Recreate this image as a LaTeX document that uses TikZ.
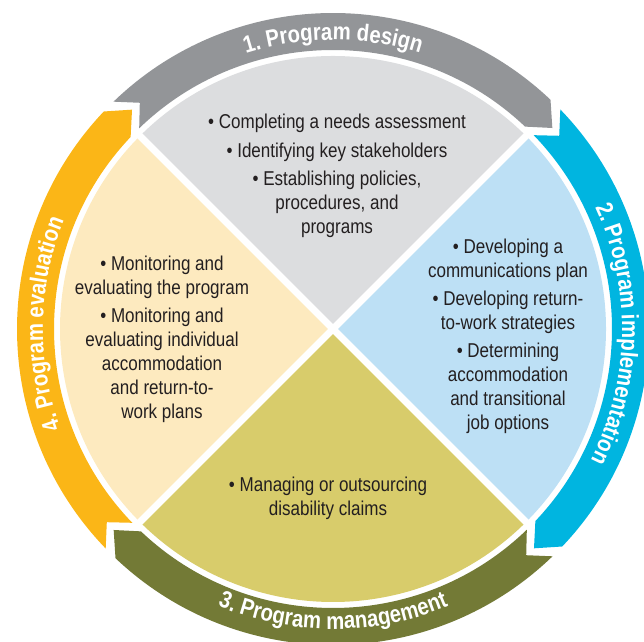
\documentclass[tikz,border=0pt]{standalone}
\usepackage{fontspec}
\setmainfont{Liberation Sans}[FakeStretch=0.85]
\usetikzlibrary{decorations.text}

\definecolor{designband}{HTML}{939598}
\definecolor{designfill}{HTML}{DCDDDF}
\definecolor{implband}{HTML}{00B5E0}
\definecolor{implfill}{HTML}{BDE0F5}
\definecolor{mgmtband}{HTML}{737A36}
\definecolor{mgmtfill}{HTML}{D8CC6B}
\definecolor{evalband}{HTML}{FBB617}
\definecolor{evalfill}{HTML}{FDEABF}
\definecolor{textblack}{HTML}{231F20}

\newcommand{\bandfont}{\fontsize{13.6}{13.6}\selectfont\bfseries}

\begin{document}
\begin{tikzpicture}[x=0.02cm, y=0.02cm,
    quadtext/.style={align=center, inner sep=0pt, text=textblack,
      font=\fontsize{11.4}{13.6}\selectfont},
    bandtext/.style={decorate,
      decoration={text along path, text align=center, text color=white}}]

    \useasboundingbox (0,0) rectangle (644,641);
    \clip (0,0) rectangle (644,641);

    \begin{scope}[shift={(333,312)}]
        % disc quarters
        \fill[designfill] (0,0) -- (45:273) arc[start angle=45, end angle=135, radius=273] -- cycle;
        \fill[evalfill] (0,0) -- (135:273) arc[start angle=135, end angle=225, radius=273] -- cycle;
        \fill[mgmtfill] (0,0) -- (225:273) arc[start angle=225, end angle=315, radius=273] -- cycle;
        \fill[implfill] (0,0) -- (-45:273) arc[start angle=-45, end angle=45, radius=273] -- cycle;
        \foreach \a in {45,135}
            \draw[white, line width=4pt] ({\a}:276) -- ({\a+180}:276);

        % arrow bands, clockwise
        \foreach \b/\col in {135/designband, 45/implband, -45/mgmtband, -135/evalband}
            \fill[\col] ({\b-1}:316) arc[start angle=\b-1, end angle=\b-88.5, radius=316]
                -- ({\b-92.5}:297.5) -- ({\b-88.5}:279)
                arc[start angle=\b-88.5, end angle=\b-1, radius=279]
                -- ({\b-4.5}:297.5) -- cycle;

        \path[bandtext, decoration={text={|\bandfont|1. Program design}}]
            (150:289) arc[start angle=150, end angle=30, radius=289];
        \path[bandtext, decoration={text={|\bandfont|2. Program implementation}}]
            (59:289) arc[start angle=59, end angle=-61, radius=289];
        \path[bandtext, decoration={text={|\bandfont|3. Program management}}]
            (-150:300) arc[start angle=-150, end angle=-30, radius=300];
        \path[bandtext, decoration={text={|\bandfont|4. Program evaluation}}]
            (239:290) arc[start angle=239, end angle=119, radius=290];
    \end{scope}

    \node[quadtext] (design) at (337,465) {\textbullet~Completing a needs assessment\\[2.5pt]
        \textbullet~Identifying key stakeholders\\[2.5pt]
        \textbullet~Establishing policies,\\procedures, and\\programs};
    \node[quadtext] (implementation) at (508,305) {\textbullet~Developing a\\communications plan\\[2.5pt]
        \textbullet~Developing return-\\to-work strategies\\[2.5pt]
        \textbullet~Determining\\accommodation\\and transitional\\job options};
    \node[quadtext] (management) at (328,143) {\textbullet~Managing or outsourcing\\disability claims};
    \node[quadtext] (evaluation) at (162,302) {\textbullet~Monitoring and\\evaluating the program\\[2.5pt]
        \textbullet~Monitoring and\\evaluating individual\\accommodation\\and return-to-\\work plans};
\end{tikzpicture}
\end{document}
